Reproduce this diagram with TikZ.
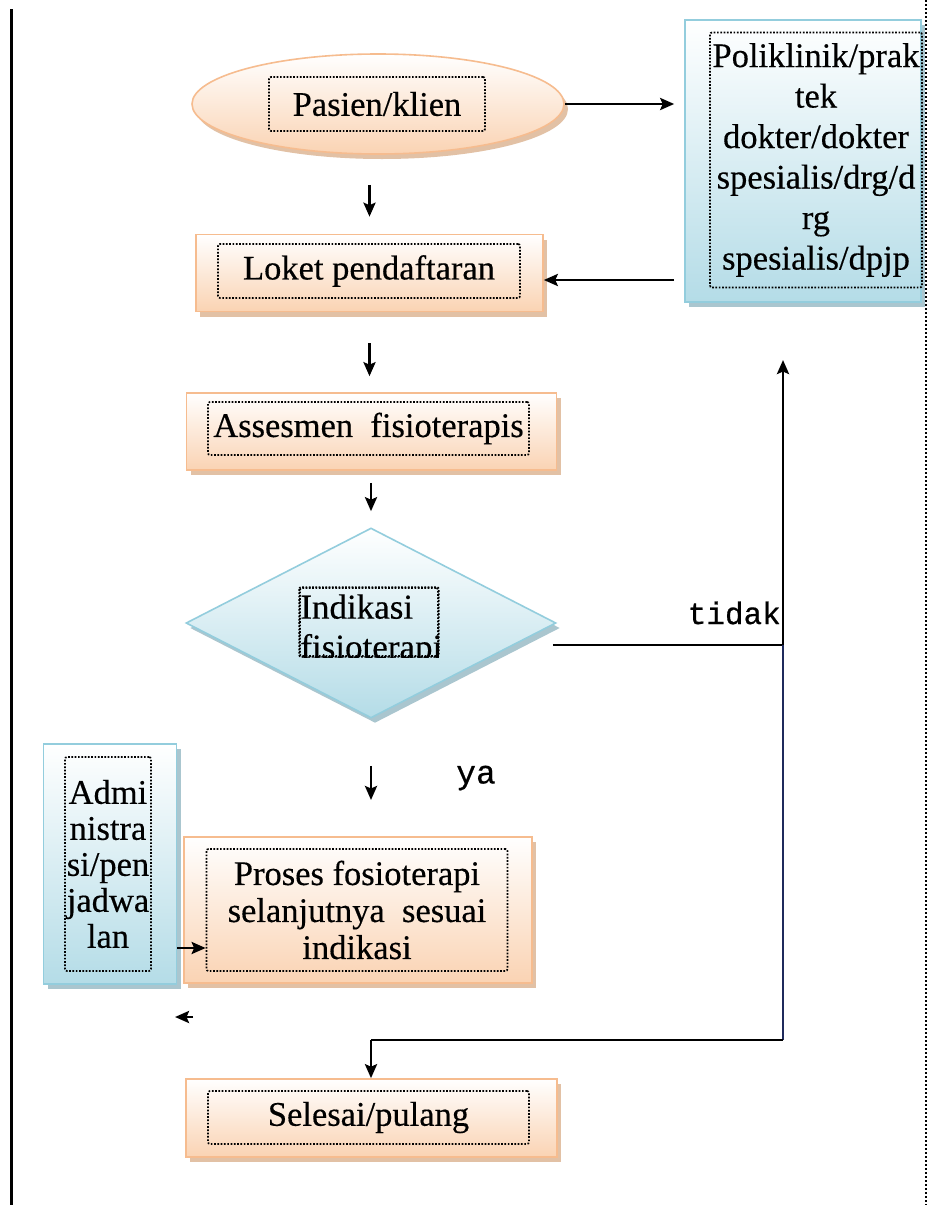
\documentclass[tikz,border=0pt]{standalone}
\usepackage{fontspec}
\setmainfont{Liberation Serif}[UprightFeatures={FakeBold=0.35}]
\setmonofont{Liberation Mono}[UprightFeatures={FakeBold=0.6}]
\usetikzlibrary{shapes,arrows.meta,shadows,positioning}
\tikzset{>={Stealth[length=14pt,width=12pt,inset=2.5pt]}}
\definecolor{peach}{HTML}{FAD3B3}
\definecolor{orline}{HTML}{F6BC8F}
\definecolor{orshadow}{HTML}{D6A77F}
\definecolor{skyblue}{HTML}{B4DCE7}
\definecolor{blline}{HTML}{93CDDD}
\definecolor{blshadow}{HTML}{86AEBB}
\definecolor{navyline}{HTML}{1F2A5C}

\begin{document}
\begin{tikzpicture}[x=1pt,y=-1pt,
                    orbox/.style={draw=orline, line width=1.6pt, inner sep=0pt,
                                  top color=white, bottom color=peach,
                                  drop shadow={shadow xshift=4pt, shadow yshift=-5pt, fill=orshadow, opacity=.7}},
                    blbox/.style={draw=blline, line width=1.6pt, inner sep=0pt,
                                  top color=white, bottom color=skyblue,
                                  drop shadow={shadow xshift=4pt, shadow yshift=-5pt, fill=blshadow, opacity=.7}},
                    inbox/.style={draw=black, line width=1.7pt, dash pattern=on 1.7pt off 1.6pt,
                                  rounded corners=2pt, inner sep=0pt, align=center},
                    conn/.style={line width=2.8pt, ->},
                    plain/.style={line width=2.8pt},
                    lbl/.style={font=\ttfamily\fontsize{31}{31}\selectfont, inner sep=0pt},
                    font=\fontsize{34.5}{37}\selectfont,
                   ]

\useasboundingbox (0,0) rectangle (938,1205);
\fill[white] (0,0) rectangle (938,1205);

% table borders
\draw[line width=3pt] (11,9) -- (11,1205);
\draw[line width=2.4pt, dash pattern=on 2.4pt off 1.6pt] (926,0) -- (926,1205);

% shapes
\node[orbox, ellipse, minimum width=372pt, minimum height=100pt] (pasien) at (378,104) {};
\node[inbox, minimum width=216pt, minimum height=54pt] (pasien-t) at (377,104) {Pasien/klien};

\node[blbox, minimum width=236pt, minimum height=282pt] (poli) at (803,161) {};
\node[inbox, minimum width=212pt, minimum height=255pt, font=\fontsize{34.5}{40.5}\selectfont] (poli-t) at (816,160)
  {Poliklinik/prak\\tek\\dokter/dokter\\spesialis/drg/d\\rg\\spesialis/dpjp};

\node[orbox, minimum width=347pt, minimum height=77pt] (loket) at (369.5,273) {};
\node[inbox, minimum width=302pt, minimum height=54pt] (loket-t) at (369,271) {Loket pendaftaran};

\node[orbox, minimum width=370pt, minimum height=77pt] (asesmen) at (371.5,431.5) {};
\node[inbox, minimum width=321pt, minimum height=53pt] (asesmen-t) at (368.5,428.5) {Assesmen\ \ fisioterapis};

\node[blbox, diamond, minimum width=370pt, minimum height=190pt] (indikasi) at (371,623) {};
\node[inbox, minimum width=138pt, minimum height=68pt] (indikasi-t) at (369,622) {};
\begin{scope}
  \clip (indikasi-t.north west) rectangle ([yshift=-1pt]indikasi-t.south east);
  \node[anchor=north west, inner sep=0pt, align=left, font=\fontsize{35}{40}\selectfont]
    at ([xshift=1pt,yshift=-7pt]indikasi-t.north west) {Indikasi\\fisioterapi};
\end{scope}
\draw[inbox] (indikasi-t.north west) rectangle (indikasi-t.south east);

\node[blbox, minimum width=133pt, minimum height=240pt] (admin) at (110,864) {};
\node[inbox, minimum width=86pt, minimum height=214pt, font=\fontsize{34.5}{36}\selectfont] (admin-t) at (108,864)
  {Admi\\nistra\\si/pen\\jadwa\\lan};

\node[orbox, minimum width=348pt, minimum height=146pt] (proses) at (358,910) {};
\node[inbox, minimum width=301pt, minimum height=122pt] (proses-t) at (357,910)
  {Proses fosioterapi\\selanjutnya\ \ sesuai\\indikasi};

\node[orbox, minimum width=371pt, minimum height=78pt] (selesai) at (371.5,1118) {};
\node[inbox, minimum width=321pt, minimum height=53pt] (selesai-t) at (368.5,1117.5) {Selesai/pulang};

% labels
\node[lbl, anchor=east] (tidak) at (781,613) {tidak};
\node[lbl, anchor=west, font=\ttfamily\fontsize{33}{33}\selectfont] (ya) at (456,778) {ya};

% connectors
\coordinate (corner-up) at (783,360);
\coordinate (corner-in) at (783,645);
\coordinate (corner-dn) at (783,1040);
\coordinate (bend) at (371,1040);
\coordinate (stray) at (175,1017);

\draw[conn] (pasien.east) -- ([xshift=-10pt]poli.west |- pasien.east);
\draw[conn] ([xshift=-10pt]poli.west |- 0,280) -- (loket.east |- 0,280);
\draw[conn, shorten <=30pt, shorten >=17pt] (pasien.south -| loket.north) -- (loket.north);
\draw[conn, shorten <=31pt, shorten >=16pt] (loket.south) -- (loket.south |- asesmen.north);
\draw[conn, shorten <=12pt, shorten >=16pt] (asesmen.south -| indikasi.north) -- (indikasi.north);
\draw[conn, shorten <=47pt] (indikasi.south) -- (indikasi.south |- 0,800);
\draw[plain] ([xshift=-4pt,yshift=-22pt]indikasi.east) -- (corner-in);
\draw[conn] (corner-in) -- (corner-up);
\draw[plain, navyline] (corner-in) -- (corner-dn);
\draw[plain] (corner-dn) -- (bend);
\draw[conn] (bend) -- (selesai.north -| bend);
\draw[conn] (admin.east |- 0,948) -- (proses-t.west |- 0,948);
\draw[conn] ([xshift=18pt]stray) -- (stray);

\end{tikzpicture}
\end{document}
